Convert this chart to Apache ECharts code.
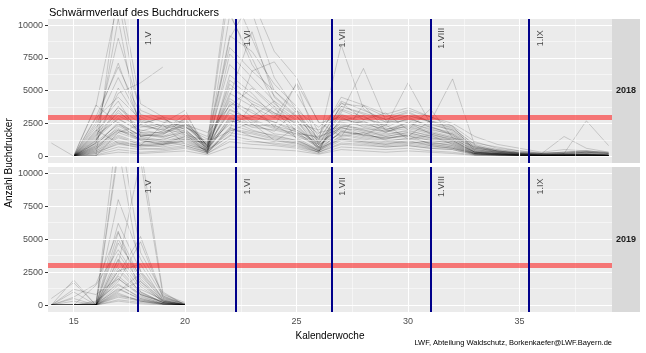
<!DOCTYPE html>
<html>
<head>
<meta charset="utf-8">
<script src="https://cdn.jsdelivr.net/npm/echarts@6/dist/echarts.min.js"></script>
<style>
  html, body { margin: 0; padding: 0; background: #fff; }
  #chart { width: 646px; height: 353px; }
</style>
</head>
<body>
<div id="chart"></div>
<script>
// calendar weeks per year
const weeks2018 = [14, 15, 16, 17, 18, 19, 20, 21, 22, 23, 24, 25, 26, 27, 28, 29, 30, 31, 32, 33, 34, 35, 36, 37, 38, 39];
const weeks2019 = [14, 15, 16, 17, 18, 19, 20];

// one row per trap, beetles caught per week
const traps2018 = [
  [null, 0, 1200, 3500, 1800, 1500, 2200, 1300, 4200, 3000, 2600, 1800, 1400, 2500, 2000, 1500, 1800, 1400, 1200, 300, 200, 100, 50, 80, 100, 60],
  [null, 0, 400, 1200, 800, 900, 1100, 400, 2800, 2000, 1500, 1200, 500, 1500, 1800, 1200, 1000, 1100, 800, 200, 100, 50, 30, 40, 60, 30],
  [null, 0, 2600, 7100, 2400, 2000, 1800, 300, 5800, 4500, 3300, 2500, 2000, 3200, 2600, 2200, 2900, 2300, 1600, 400, 300, 200, 100, 150, 200, 100],
  [1000, 0, 800, 2000, 1200, 1000, 1500, 900, 3300, 2400, 3800, 1300, 400, 1900, 1500, 1300, 1600, 900, 700, 150, 100, 60, 30, 50, 80, 40],
  [null, 0, 3800, 12000, 3000, 2200, 2800, 500, 7800, 6000, 4200, 3000, 1700, 4200, 3500, 2800, 3400, 2600, 2000, 700, 400, 200, 150, 200, 300, 200],
  [null, 0, 200, 700, 500, 600, 800, 300, 1600, 1200, 900, 700, 300, 1000, 900, 700, 800, 600, 500, 100, 50, 20, 10, 20, 30, 10],
  [null, 0, 1600, 2800, 2000, 1700, 2400, 1800, 3800, 5200, 3600, 2400, 700, 2600, 2300, 1900, 2100, 1700, 1300, 500, 300, 150, 100, 120, 150, 80],
  [null, 0, 600, 1600, 1000, 1300, 1700, 200, 2200, 1500, 1100, 2200, 600, 1300, 1100, 900, 1200, 800, 600, 200, 150, 80, 40, 60, 100, 50],
  [null, 0, 1000, 5200, 2600, 1800, 2500, 600, 10800, 7500, 4000, 2800, 400, 3500, 2800, 2500, 3000, 2200, 1800, 600, 400, 250, 200, 300, 350, 200],
  [null, 0, 300, 900, 700, 800, 1200, 1100, 1900, 2600, 1700, 1500, 900, 1700, 1400, 1200, 1300, 1000, 900, 250, 150, 100, 50, 70, 60, 30],
  [null, 0, 2200, 4200, 1500, 1900, 3200, 700, 4800, 3800, 2900, 5500, 800, 2200, 2700, 1800, 2400, 1900, 1500, 300, 200, 100, 80, 100, 120, 90],
  [null, 0, 500, 2300, 1400, 1100, 1400, 500, 3000, 2200, 2000, 1600, 1100, 2000, 1600, 1400, 1500, 1200, 1000, 200, 150, 80, 60, 70, 90, 40],
  [null, 0, 1400, 3100, 2200, 2500, 3500, 200, 6200, 4800, 3000, 2000, 1000, 2700, 3100, 2000, 2600, 2000, 1700, 500, 300, 200, 100, 150, 250, 100],
  [null, 0, 100, 500, 300, 400, 600, 200, 1100, 900, 800, 600, 200, 700, 600, 500, 600, 400, 300, 80, 50, 30, 20, 20, 30, 10],
  [null, 0, 1800, 9000, 3500, 2800, 2200, 1500, 8300, 6500, 5000, 3500, 2200, 4000, 3800, 3000, 3500, 3000, 2500, 1500, 900, 600, 300, 500, 400, 300],
  [null, 0, 700, 1900, 1700, 1400, 2000, 600, 2600, 3000, 4200, 1800, 700, 2400, 1900, 1600, 2000, 1500, 1200, 300, 200, 150, 80, 100, 150, 70],
  [null, 0, 2900, 4500, 2800, 2300, 1900, 400, 4000, 3500, 2300, 1900, 600, 2900, 2400, 2100, 2200, 1800, 1400, 400, 250, 120, 80, 100, 120, 60],
  [null, 0, 900, 2500, 1600, 1600, 2900, 700, 3600, 2700, 2100, 1700, 1500, 2100, 2000, 1700, 1900, 1600, 1300, 350, 200, 120, 60, 80, 100, 50],
  [null, 0, 1200, 3800, 1900, 2400, 2100, 500, 5200, 4200, 3300, 2600, 900, 3600, 3000, 2300, 5600, 2500, 1900, 600, 350, 200, 100, 150, 200, 100],
  [null, 0, 400, 1400, 900, 700, 1000, 300, 2000, 1700, 1300, 1000, 300, 1200, 1000, 800, 900, 700, 600, 150, 100, 50, 30, 40, 50, 20],
  [null, 0, 3000, 6800, 3200, 2600, 2300, 900, 7000, 5300, 3800, 2700, 1100, 3300, 6700, 2700, 3100, 2700, 2100, 900, 500, 300, 200, 300, 400, 250],
  [null, 0, 600, 1800, 1200, 900, 1300, 1000, 2400, 1900, 1600, 1200, 400, 1600, 1300, 1100, 1400, 1000, 800, 180, 120, 70, 40, 50, 70, 40],
  [null, 0, 1700, 3300, 2300, 2000, 2600, 800, 13000, 9000, 5000, 3300, 1300, 3800, 3300, 2800, 3300, 2600, 5900, 800, 400, 250, 150, 200, 2700, 800],
  [null, 0, 1000, 2100, 1300, 1200, 1900, 600, 2900, 2400, 1900, 3500, 600, 1800, 1700, 1300, 1700, 1300, 1100, 250, 180, 100, 50, 60, 80, 40],
  [null, 0, 800, 2600, 1500, 1700, 2300, 700, 4400, 3300, 2600, 2000, 900, 2300, 2100, 1900, 2300, 1800, 1400, 1000, 700, 400, 200, 1500, 600, 300],
  [null, 0, 200, 1000, 600, 500, 700, 200, 1300, 1100, 1000, 800, 300, 900, 800, 700, 800, 600, 500, 100, 80, 40, 20, 30, 40, 20],
  [null, 0, 1300, 2900, 1800, 1800, 2400, 800, 4600, 9500, 4500, 3000, 1200, 8500, 3600, 2600, 2700, 2200, 1700, 600, 400, 250, 150, 200, 300, 150],
  [null, 0, 1500, 4800, 5600, 6800, null, null, 11000, 7000, 4600, 3100, 1000, 3100, 2500, 2400, 2800, 2400, 2000, 700, 500, 300, 200, 250, 300, 200],
  [null, 0, 500, 1500, 900, 1000, 1300, 400, 2100, 1800, 1400, 1100, 400, 1400, 1200, 1000, 1100, 900, 700, 200, 120, 60, 30, 50, 60, 30],
  [null, 0, 1100, 2400, 1600, 1500, 1800, 600, 3500, 2800, 2200, 1700, 600, 2200, 1800, 1500, 1800, 1400, 1100, 300, 200, 100, 60, 80, 100, 50],
  [null, 0, 2400, 6000, 2700, 2100, 2700, 800, 9200, 8000, 5500, 3800, 1500, 4500, 3900, 3200, 3700, 3000, 2300, 1100, 600, 400, 250, 300, 400, 250],
  [null, 0, 0, 13000, 4000, 3000, 2500, 1000, 14000, 11000, 6000, 3500, 1200, 3800, 3200, 2600, 3100, 2600, 2200, 800, 400, 200, 150, 200, 300, 200],
  [null, 0, 300, 1100, 800, 900, 1200, 400, 1800, 1500, 1200, 1000, 400, 1300, 1100, 900, 1000, 800, 600, 150, 100, 50, 30, 40, 50, 20],
  [null, 0, 700, 2000, 1300, 1100, 1600, 500, 2700, 2300, 2400, 1400, 500, 1900, 1600, 1400, 1600, 1200, 1000, 300, 180, 80, 50, 60, 90, 40],
  [null, 0, 1900, 3700, 2500, 2900, 2000, 700, 5500, 4000, 3200, 2300, 700, 2800, 2500, 2000, 2500, 2100, 1600, 500, 300, 150, 100, 120, 150, 80],
  [null, 0, 50, 300, 200, 300, 400, 100, 700, 600, 500, 400, 150, 500, 400, 300, 400, 300, 200, 50, 30, 20, 10, 10, 20, 10],
  [null, 0, 3900, 2500, 1200, 900, 1500, 300, 2000, 6500, 7200, 4800, 1800, 2200, 1600, 2400, 1300, 1600, 900, 200, 100, 50, 20, 30, 40, 20],
  [null, 0, 0, 1800, 2400, 3000, 1600, 1200, 3900, 2500, 1200, 900, 300, 4100, 2800, 3300, 2000, 3600, 1400, 700, 300, 150, 80, 100, 100, 60],
  [null, 0, 2000, 1000, 800, 2400, 900, 500, 1500, 4000, 2200, 5600, 2600, 1500, 3900, 2000, 1500, 2700, 2300, 400, 250, 120, 60, 80, 90, 40],
  [null, 0, 1000, 10500, 1500, 1200, 800, 300, 9000, 12000, 8000, 6000, 2500, 3000, 2200, 1800, 2600, 1700, 1200, 300, 150, 80, 40, 60, 80, 30]
];

const traps2019 = [
  [0, 0, 0, 2200, 800, 200, 0],
  [0, 0, 100, 1200, 500, 100, 0],
  [null, 0, 0, 5500, 2000, 300, 50],
  [0, 1900, 0, 3500, 1200, 400, 0],
  [null, 0, 0, 800, 300, 100, 0],
  [0, 0, 200, 8000, 3500, 700, 100],
  [null, 0, 0, 1800, 4800, 600, 0],
  [0, 500, 0, 2600, 900, 200, 0],
  [null, 0, 0, 12000, 2500, 500, 100],
  [0, 0, 0, 400, 200, 50, 0],
  [0, 0, 1500, 4200, 1600, 300, 0],
  [null, 0, 0, 1500, 600, 150, 0],
  [0, 300, 0, 3100, 11000, 800, 200],
  [null, 0, 0, 600, 300, 50, 0],
  [0, 0, 0, 5000, 1800, 400, 0],
  [0, 1200, 800, 2000, 700, 100, 0],
  [null, 0, 0, 14000, 4000, 900, 0],
  [0, 0, 0, 1000, 2400, 300, 0],
  [null, 0, 0, 2800, 1000, 200, 0],
  [0, 0, 0, 300, 100, 0, 0],
  [0, 0, 0, 3900, 1400, 300, 50],
  [null, 0, 300, 1600, 500, 100, 0],
  [0, 0, 0, 4700, 2200, 500, 0],
  [0, 0, 0, 700, 400, 100, 0],
  [null, 0, 0, 2300, 5200, 700, 0],
  [0, 1000, 0, 1300, 400, 100, 0],
  [0, 0, 0, 6200, 2600, 600, 100],
  [null, 0, 0, 900, 300, 50, 0],
  [0, 0, 0, 11500, 12000, 1000, 0],
  [0, 0, 0, 2000, 800, 200, 0],
  [0, 600, 1600, 5600, 1000, 200, 0],
  [null, 0, 0, 2600, 3100, 400, 0],
  [0, 0, 0, 1100, 1800, 200, 0],
  [500, 1700, 0, 3400, 800, 300, 0]
];

const years = ['2018', '2019'];
const threshold = 3000;
const monthWeeks = [17.86, 22.29, 26.57, 31.0, 35.43];
const monthLabels = ['1.V', '1.VI', '1.VII', '1.VIII', '1.IX'];
const yMajor = [0, 2500, 5000, 7500, 10000];
const yMinor = [1250, 3750, 6250, 8750];
const xMajor = [15, 20, 25, 30, 35];
const xMinor = [17.5, 22.5, 27.5, 32.5, 37.5];

var myChart = echarts.init(document.getElementById("chart"), null, { renderer: "canvas" });

var font = "Liberation Sans, Arial, sans-serif";
var panels = [
  { top: 19, height: 144 },
  { top: 167, height: 145 },
];

var grids = [];
var xAxes = [];
var yAxes = [];
var series = [];

panels.forEach(function (p, i) {
  grids.push({
    left: 48,
    top: p.top,
    width: 564,
    height: p.height,
    show: true,
    backgroundColor: "#EBEBEB",
    borderWidth: 0,
  });
  xAxes.push({
    type: "value",
    gridIndex: i,
    min: 13.85,
    max: 39.15,
    axisLine: { show: false },
    splitLine: { show: false },
    axisTick: {
      show: i === 1,
      customValues: xMajor,
      length: 3,
      lineStyle: { color: "#333333", width: 1 },
    },
    axisLabel: {
      show: i === 1,
      customValues: xMajor,
      color: "#4D4D4D",
      fontSize: 9,
      fontFamily: font,
      margin: 5,
      formatter: function (v) { return String(v); },
    },
    name: i === 1 ? "Kalenderwoche" : "",
    nameLocation: "middle",
    nameGap: 19,
    nameTextStyle: { color: "#000", fontSize: 10, fontFamily: font },
  });
  yAxes.push({
    type: "value",
    gridIndex: i,
    min: -525,
    max: 10475,
    axisLine: { show: false },
    splitLine: { show: false },
    axisTick: {
      show: true,
      customValues: yMajor,
      length: 3,
      lineStyle: { color: "#333333", width: 1 },
    },
    axisLabel: {
      customValues: yMajor,
      color: "#4D4D4D",
      fontSize: 9,
      fontFamily: font,
      margin: 5,
      formatter: function (v) { return String(v); },
    },
  });

  // panel grid lines
  var gridLines = [];
  yMinor.forEach(function (v) { gridLines.push({ yAxis: v, lineStyle: { width: 0.5 } }); });
  xMinor.forEach(function (v) { gridLines.push({ xAxis: v, lineStyle: { width: 0.5 } }); });
  yMajor.forEach(function (v) { gridLines.push({ yAxis: v, lineStyle: { width: 1.1 } }); });
  xMajor.forEach(function (v) { gridLines.push({ xAxis: v, lineStyle: { width: 1.1 } }); });
  series.push({
    type: "line",
    xAxisIndex: i,
    yAxisIndex: i,
    data: [],
    z: 1,
    silent: true,
    markLine: {
      silent: true,
      symbol: ["none", "none"],
      label: { show: false },
      lineStyle: { color: "#FFFFFF", type: "solid", width: 1 },
      emphasis: { disabled: true },
      data: gridLines,
    },
  });

  var weeks = i === 0 ? weeks2018 : weeks2019;
  var traps = i === 0 ? traps2018 : traps2019;
  traps.forEach(function (row) {
    series.push({
      type: "line",
      xAxisIndex: i,
      yAxisIndex: i,
      z: 2,
      silent: true,
      showSymbol: false,
      symbol: "none",
      connectNulls: false,
      lineStyle: { color: "rgba(0,0,0,0.16)", width: 1 },
      data: weeks.map(function (w, k) { return [w, row[k]]; }),
    });
  });

  // threshold + month marks
  series.push({
    type: "line",
    xAxisIndex: i,
    yAxisIndex: i,
    data: [],
    z: 3,
    silent: true,
    markLine: {
      silent: true,
      symbol: ["none", "none"],
      label: { show: false },
      emphasis: { disabled: true },
      data: [{ yAxis: threshold, lineStyle: { color: "rgba(255,0,0,0.5)", width: 5, type: "solid" } }].concat(
        monthWeeks.map(function (w) {
          return { xAxis: w, lineStyle: { color: "#00008B", width: 2, type: "solid" } };
        })
      ),
    },
  });

  series.push({
    type: "scatter",
    xAxisIndex: i,
    yAxisIndex: i,
    z: 4,
    silent: true,
    symbolSize: 0,
    itemStyle: { color: "transparent" },
    label: {
      show: true,
      position: "inside",
      rotate: 90,
      align: "center",
      verticalAlign: "middle",
      color: "#1A1A1A",
      fontSize: 9,
      fontFamily: font,
      formatter: function (p) { return p.value[2]; },
    },
    data: monthWeeks.map(function (w, k) { return [w + 0.5, 9000, monthLabels[k]]; }),
  });
});

var graphics = [];
panels.forEach(function (p, i) {
  graphics.push({
    type: "rect",
    left: 612,
    top: p.top,
    shape: { width: 28, height: p.height },
    style: { fill: "#D9D9D9" },
    silent: true,
  });
  graphics.push({
    type: "text",
    x: 626,
    y: p.top + p.height / 2,
    style: {
      text: years[i],
      fill: "#1A1A1A",
      font: "bold 9px " + font,
      align: "center",
      verticalAlign: "middle",
    },
    silent: true,
  });
});
graphics.push({
  type: "text",
  x: 9,
  y: 163,
  rotation: Math.PI / 2,
  style: {
    text: "Anzahl Buchdrucker",
    fill: "#000",
    font: "10px " + font,
    align: "center",
    verticalAlign: "middle",
  },
  silent: true,
});
graphics.push({
  type: "text",
  x: 612,
  y: 343,
  style: {
    text: "LWF, Abteilung Waldschutz, Borkenkaefer@LWF.Bayern.de",
    fill: "#000",
    font: "7.5px " + font,
    align: "right",
    verticalAlign: "middle",
  },
  silent: true,
});

var option = {
  animation: false,
  backgroundColor: "#FFFFFF",
  title: {
    text: "Schwärmverlauf des Buchdruckers",
    left: 44,
    top: 2,
    textStyle: { color: "#000", fontSize: 11, fontWeight: "normal", fontFamily: font },
  },
  tooltip: { show: false },
  grid: grids,
  xAxis: xAxes,
  yAxis: yAxes,
  series: series,
  graphic: graphics,
};

myChart.setOption(option);
</script>
</body>
</html>
